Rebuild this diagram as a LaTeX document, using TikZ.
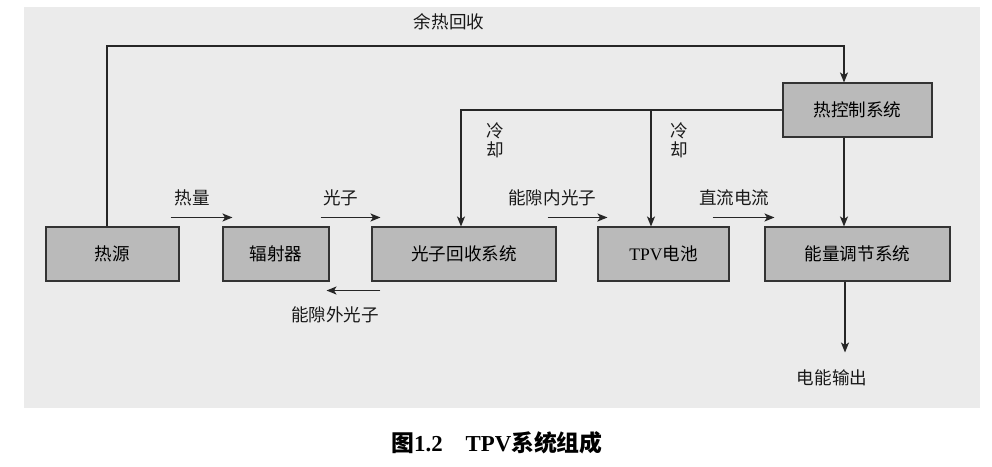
\documentclass[tikz,border=0pt]{standalone}
\usepackage{fontspec}
\setmainfont{Liberation Serif}
\newfontfamily\cjk{Noto Sans CJK SC}
\usetikzlibrary{arrows.meta, positioning, calc}

\begin{document}
\begin{tikzpicture}[
    x=0.02cm, y=-0.02cm,
    font=\cjk\fontsize{10}{11}\selectfont,
    >={Stealth[length=2mm, width=1.6mm, inset=0.5mm]},
    blk/.style={draw=black!80, fill=black!27, line width=0.6pt, minimum height=1.08cm, inner sep=0pt},
    flow/.style={->, line width=0.8pt, draw=black!85},
    lbl/.style={inner sep=0pt, text=black!90},
    vlbl/.style={lbl, align=center},
]
    \useasboundingbox (0,0) rectangle (992,467);
    \fill[black!8] (24,7) rectangle (980,408);
    % blocks
    \node[blk, minimum width=2.66cm] (src) at (112.5,254) {热源};
    \node[blk, minimum width=2.12cm] (rad) at (276,254) {辐射器};
    \node[blk, minimum width=3.68cm] (rec) at (464,254) {光子回收系统};
    \node[blk, minimum width=2.62cm] (cell) at (663.5,254) {{\rmfamily TPV}电池};
    \node[blk, minimum width=3.70cm] (reg) at (857.5,254) {能量调节系统};
    \node[blk, minimum width=2.98cm] (ctrl) at (857.5,110) {热控制系统};
    % forward flow
    \draw[flow] ([shift={(-0.18cm,0.18cm)}]src.north east) -- ([shift={(0.2cm,0.18cm)}]rad.north west)
        node[lbl, pos=0.35, above=0.22cm] {热量};
    \draw[flow] ([shift={(-0.18cm,0.18cm)}]rad.north east) -- ([shift={(0.18cm,0.18cm)}]rec.north west)
        node[lbl, pos=0.34, above=0.22cm] {光子};
    \draw[flow] ([shift={(-0.18cm,0.18cm)}]rec.north east) -- ([shift={(0.2cm,0.18cm)}]cell.north west)
        node[lbl, pos=0.08, above=0.22cm] {能隙内光子};
    \draw[flow] ([shift={(-0.34cm,0.18cm)}]cell.north east) -- ([shift={(0.2cm,0.18cm)}]reg.north west)
        node[lbl, pos=0.35, above=0.22cm] {直流电流};
    \draw[flow] ([shift={(0.18cm,-0.18cm)}]rec.south west) -- ([shift={(-0.06cm,-0.18cm)}]rad.south east)
        node[lbl, pos=0.84, below=0.3cm] {能隙外光子};
    % waste heat loop
    \coordinate (heatL) at ([xshift=-0.11cm]src.north);
    \coordinate (heatR) at ([xshift=-0.27cm]ctrl.north);
    \draw[flow] (heatL) -- (heatL |- 0,46) -| (heatR);
    \node[lbl] (waste) at (449,22) {余热回收};
    % cooling
    \coordinate (coolT) at ([xshift=-0.25cm]cell.north);
    \draw[flow] (ctrl.west) -| ([xshift=-0.06cm]rec.north);
    \draw[flow] (coolT |- ctrl.west) -- (coolT);
    \node[vlbl] (coolA) at (495,140) {冷\\却};
    \node[vlbl] (coolB) at (679.5,140) {冷\\却};
    \draw[flow] ([xshift=-0.27cm]ctrl.south) -- ([xshift=-0.27cm]reg.north);
    % output
    \coordinate (out) at ([shift={(-0.25cm,-1.42cm)}]reg.south);
    \draw[flow] ([xshift=-0.25cm]reg.south) -- (out);
    \node[lbl] (elec) at (832,378) {电能输出};
    % caption
    \node[font=\cjk\bfseries\fontsize{13}{15}\selectfont] (cap) at (497,443)
        {图{\rmfamily 1.2}\quad{\rmfamily TPV}系统组成};
\end{tikzpicture}
\end{document}
